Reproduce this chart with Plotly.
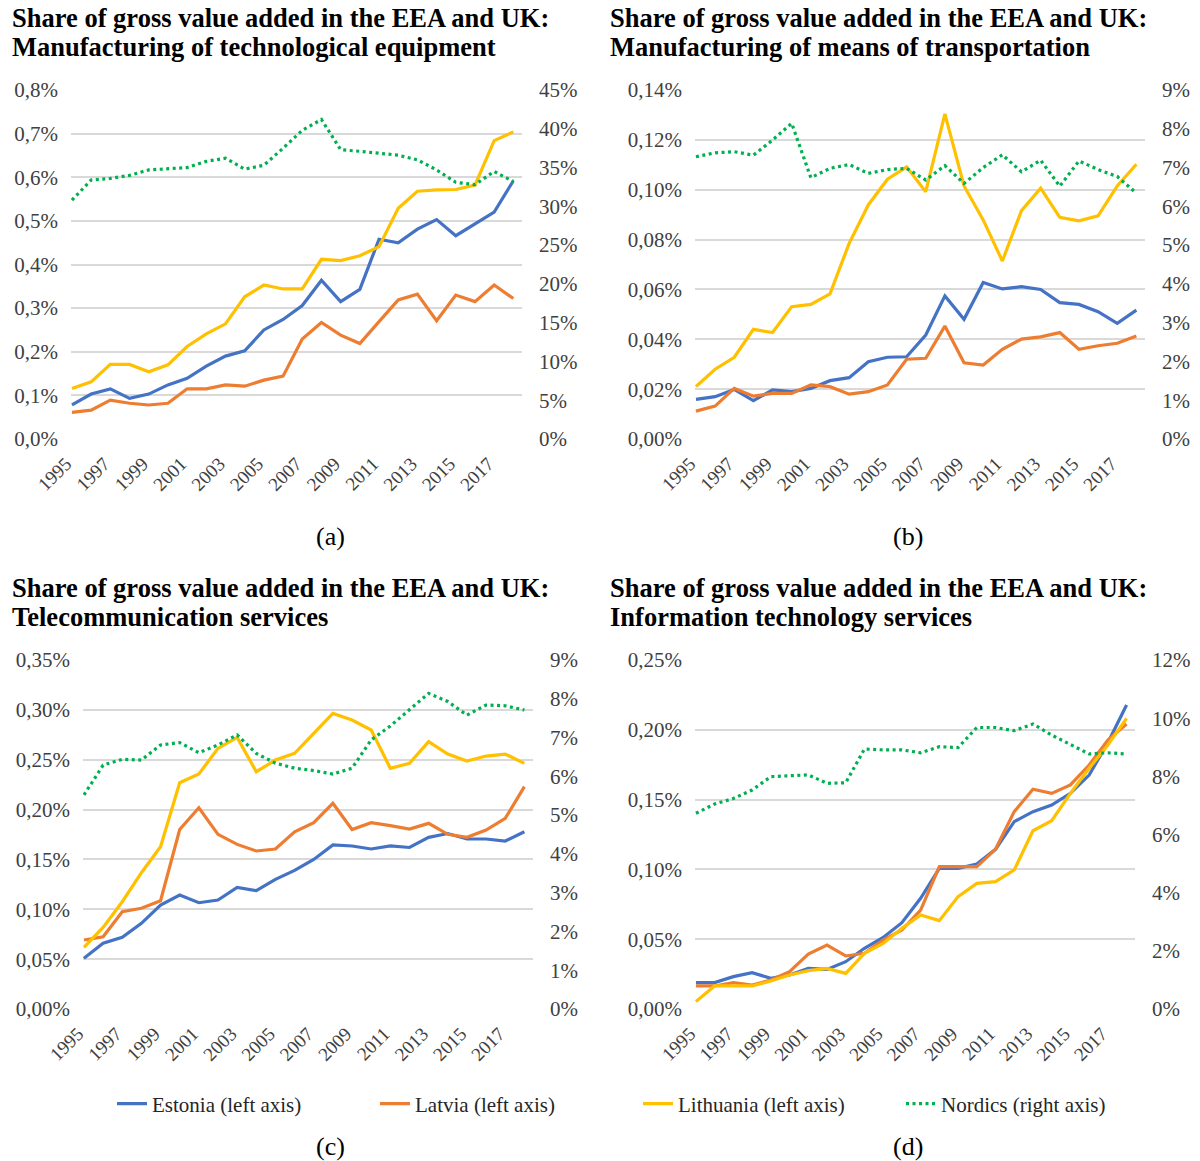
import plotly.graph_objects as go

# ---------------- data ----------------
years = list(range(1995, 2019))
year_ticks = list(range(1995, 2018, 2))

series_names = ["Estonia (left axis)", "Latvia (left axis)", "Lithuania (left axis)", "Nordics (right axis)"]

# (a) Manufacturing of technological equipment
est_a = [0.078, 0.103, 0.115, 0.093, 0.103, 0.124, 0.139, 0.167, 0.190, 0.202, 0.250, 0.274,
         0.306, 0.364, 0.315, 0.343, 0.458, 0.450, 0.481, 0.503, 0.466, 0.493, 0.520, 0.592]
lat_a = [0.061, 0.066, 0.089, 0.082, 0.078, 0.082, 0.115, 0.115, 0.124, 0.121, 0.135, 0.144,
         0.229, 0.267, 0.238, 0.219, 0.269, 0.319, 0.332, 0.271, 0.330, 0.315, 0.353, 0.322]
lit_a = [0.116, 0.131, 0.171, 0.171, 0.154, 0.170, 0.212, 0.241, 0.264, 0.326, 0.353, 0.344,
         0.344, 0.412, 0.409, 0.420, 0.441, 0.529, 0.568, 0.571, 0.572, 0.582, 0.684, 0.704]
nor_a = [30.8, 33.4, 33.6, 34.0, 34.7, 34.9, 35.0, 35.8, 36.2, 34.8, 35.3, 37.5,
         39.8, 41.2, 37.3, 37.1, 36.9, 36.6, 36.0, 34.7, 33.1, 32.8, 34.5, 33.2]

# (b) Manufacturing of means of transportation
est_b = [0.0159, 0.0170, 0.0199, 0.0154, 0.0197, 0.0190, 0.0203, 0.0234, 0.0246, 0.0310, 0.0328, 0.0330,
         0.0417, 0.0574, 0.0480, 0.0628, 0.0602, 0.0611, 0.0600, 0.0547, 0.0540, 0.0511, 0.0464, 0.0517]
lat_b = [0.0112, 0.0132, 0.0203, 0.0172, 0.0183, 0.0183, 0.0217, 0.0210, 0.0180, 0.0190, 0.0217, 0.0320,
         0.0324, 0.0453, 0.0306, 0.0297, 0.0360, 0.0401, 0.0410, 0.0427, 0.0360, 0.0374, 0.0384, 0.0413]
lit_b = [0.0210, 0.0280, 0.0328, 0.0440, 0.0427, 0.0531, 0.0540, 0.0582, 0.0785, 0.0939, 0.1042, 0.1092,
         0.0992, 0.1304, 0.1015, 0.0879, 0.0714, 0.0916, 0.1006, 0.0889, 0.0875, 0.0895, 0.1015, 0.1102]
nor_b = [7.28, 7.38, 7.41, 7.32, 7.71, 8.14, 6.74, 6.98, 7.08, 6.85, 6.95, 6.98,
         6.68, 7.05, 6.59, 7.00, 7.33, 6.89, 7.19, 6.52, 7.17, 6.95, 6.77, 6.34]

# (c) Telecommunication services
est_c = [0.0508, 0.0659, 0.0719, 0.0859, 0.1043, 0.1143, 0.1066, 0.1093, 0.1220, 0.1187, 0.1300, 0.1390,
         0.1500, 0.1645, 0.1635, 0.1605, 0.1635, 0.1620, 0.1722, 0.1760, 0.1705, 0.1705, 0.1685, 0.1778]
lat_c = [0.0692, 0.0725, 0.0976, 0.1010, 0.1086, 0.1800, 0.2019, 0.1752, 0.1651, 0.1585, 0.1605, 0.1778,
         0.1869, 0.2063, 0.1800, 0.1869, 0.1839, 0.1805, 0.1862, 0.1752, 0.1722, 0.1795, 0.1912, 0.2230]
lit_c = [0.0618, 0.0819, 0.1076, 0.1367, 0.1628, 0.2270, 0.2357, 0.2614, 0.2724, 0.2380, 0.2497, 0.2564,
         0.2765, 0.2965, 0.2898, 0.2798, 0.2414, 0.2464, 0.2681, 0.2557, 0.2487, 0.2537, 0.2557, 0.2464]
nor_c = [5.52, 6.29, 6.44, 6.42, 6.81, 6.87, 6.61, 6.81, 7.07, 6.59, 6.34, 6.21,
         6.15, 6.06, 6.21, 6.94, 7.30, 7.71, 8.14, 7.93, 7.58, 7.84, 7.82, 7.71]

# (d) Information technology services
est_d = [0.0189, 0.0189, 0.0232, 0.0260, 0.0220, 0.0244, 0.0291, 0.0284, 0.0339, 0.0435, 0.0513, 0.0618,
         0.0793, 0.1008, 0.1008, 0.1039, 0.1144, 0.1342, 0.1414, 0.1461, 0.1545, 0.1676, 0.1908, 0.2178]
lat_d = [0.0165, 0.0165, 0.0189, 0.0172, 0.0208, 0.0267, 0.0394, 0.0458, 0.0380, 0.0399, 0.0494, 0.0566,
         0.0709, 0.1020, 0.1020, 0.1020, 0.1144, 0.1414, 0.1574, 0.1545, 0.1605, 0.1748, 0.1927, 0.2042]
lit_d = [0.0053, 0.0165, 0.0165, 0.0165, 0.0201, 0.0244, 0.0275, 0.0291, 0.0255, 0.0399, 0.0470, 0.0578,
         0.0673, 0.0633, 0.0805, 0.0900, 0.0912, 0.0996, 0.1277, 0.1349, 0.1545, 0.1724, 0.1891, 0.2082]
nor_d = [6.73, 7.05, 7.24, 7.53, 7.99, 8.01, 8.05, 7.76, 7.78, 8.94, 8.91, 8.91,
         8.81, 9.02, 8.99, 9.68, 9.68, 9.57, 9.80, 9.42, 9.08, 8.77, 8.81, 8.77]

titles = [
    ("Share of gross value added in the EEA and UK:", "Manufacturing of technological equipment"),
    ("Share of gross value added in the EEA and UK:", "Manufacturing of means of transportation"),
    ("Share of gross value added in the EEA and UK:", "Telecommunication services"),
    ("Share of gross value added in the EEA and UK:", "Information technology services"),
]
panel_labels = ["(a)", "(b)", "(c)", "(d)"]

# ---------------- styling / layout ----------------
W, H = 1200, 1161
FONT = "Liberation Serif, Times New Roman, serif"
TICK_COLOR = "#404040"
colors = ["#4472C4", "#ED7D31", "#FFC000", "#00B050"]

panels = [
    dict(data=(est_a, lat_a, lit_a, nor_a), xpx=(71, 522), ypx=(90, 439),
         lmax=0.8, ldt=0.1, lfmt=".1f", rmax=45, rdt=5, title_px=(10, 18), lab_px=(330, 536)),
    dict(data=(est_b, lat_b, lit_b, nor_b), xpx=(695, 1145), ypx=(90, 439),
         lmax=0.14, ldt=0.02, lfmt=".2f", rmax=9, rdt=1, title_px=(608, 18), lab_px=(908, 536)),
    dict(data=(est_c, lat_c, lit_c, nor_c), xpx=(83, 533), ypx=(660, 1009),
         lmax=0.35, ldt=0.05, lfmt=".2f", rmax=9, rdt=1, title_px=(10, 588), lab_px=(330, 1146)),
    dict(data=(est_d, lat_d, lit_d, nor_d), xpx=(695, 1135), ypx=(660, 1009),
         lmax=0.25, ldt=0.05, lfmt=".2f", rmax=12, rdt=2, title_px=(608, 588), lab_px=(908, 1146)),
]

fig = go.Figure()
layout = dict(
    width=W, height=H,
    margin=dict(l=0, r=0, t=0, b=0, autoexpand=False),
    paper_bgcolor="white", plot_bgcolor="white",
    separators=", ",
    font=dict(family=FONT, size=20, color=TICK_COLOR),
    showlegend=True,
    legend=dict(orientation="h", x=112 / W, xanchor="left", y=1 - 1104 / H, yanchor="middle",
                font=dict(family=FONT, size=21, color="#262626"),
                entrywidth=218, entrywidthmode="pixels", traceorder="normal"),
)
annotations = []

for k, p in enumerate(panels, start=1):
    xn = "x" if k == 1 else f"x{k}"
    yl_i, yr_i = 2 * k - 1, 2 * k
    yl = "y" if yl_i == 1 else f"y{yl_i}"
    yr = f"y{yr_i}"
    xdom = [p["xpx"][0] / W, p["xpx"][1] / W]
    ydom = [1 - p["ypx"][1] / H, 1 - p["ypx"][0] / H]

    layout["xaxis" if k == 1 else f"xaxis{k}"] = dict(
        domain=xdom, anchor=yl, range=[1994.95, 2018.45], automargin=False,
        tickmode="array", tickvals=year_ticks, ticktext=[str(t) for t in year_ticks],
        tickangle=-45, showgrid=False, zeroline=False, showline=False,
        ticks="", ticklabelstandoff=9, ticklabelshift=-6,
        tickfont=dict(family=FONT, size=19, color=TICK_COLOR), fixedrange=True)
    layout["yaxis" if yl_i == 1 else f"yaxis{yl_i}"] = dict(
        domain=ydom, anchor=xn, range=[0, p["lmax"] * 1.0001], dtick=p["ldt"], tick0=0,
        automargin=False,
        tickformat=p["lfmt"], ticksuffix="%", showgrid=True, gridcolor="#d9d9d9", gridwidth=1.5,
        zeroline=False, showline=False, ticks="", ticklabelstandoff=12,
        tickfont=dict(family=FONT, size=21, color=TICK_COLOR))
    layout[f"yaxis{yr_i}"] = dict(
        domain=ydom, anchor=xn, overlaying=yl, side="right", automargin=False,
        range=[0, p["rmax"] * 1.0001], dtick=p["rdt"], tick0=0, tickformat="d", ticksuffix="%",
        showgrid=False, zeroline=False, showline=False, ticks="", ticklabelstandoff=16,
        tickfont=dict(family=FONT, size=21, color=TICK_COLOR))

    for j, (vals, name, col) in enumerate(zip(p["data"], series_names, colors)):
        is_nordic = j == 3
        fig.add_trace(go.Scatter(
            x=years, y=vals, name=name, mode="lines",
            xaxis=xn, yaxis=yr if is_nordic else yl,
            line=dict(color=col, width=3.2, dash="3px,3.5px" if is_nordic else "solid"),
            showlegend=(k == 1), legendrank=j + 1, hoverinfo="skip"))

    t1, t2 = titles[k - 1]
    tx, ty = p["title_px"]
    annotations.append(dict(text=f"<b>{t1}</b>", x=tx / W, y=1 - ty / H, xref="paper", yref="paper",
                            xanchor="left", yanchor="middle", showarrow=False,
                            font=dict(family=FONT, size=26.5, color="black")))
    annotations.append(dict(text=f"<b>{t2}</b>", x=tx / W, y=1 - (ty + 29) / H, xref="paper", yref="paper",
                            xanchor="left", yanchor="middle", showarrow=False,
                            font=dict(family=FONT, size=26.5, color="black")))
    lx, ly = p["lab_px"]
    annotations.append(dict(text=panel_labels[k - 1], x=lx / W, y=1 - ly / H, xref="paper", yref="paper",
                            xanchor="center", yanchor="middle", showarrow=False,
                            font=dict(family=FONT, size=26, color="black")))

layout["annotations"] = annotations
fig.update_layout(**layout)
# remove the browser's default 8px page margin so the figure sits at the window's top-left corner
fig.write_html("out.html", config={"displayModeBar": False},
               post_script="document.body.style.margin='0';document.body.style.overflow='hidden';")
